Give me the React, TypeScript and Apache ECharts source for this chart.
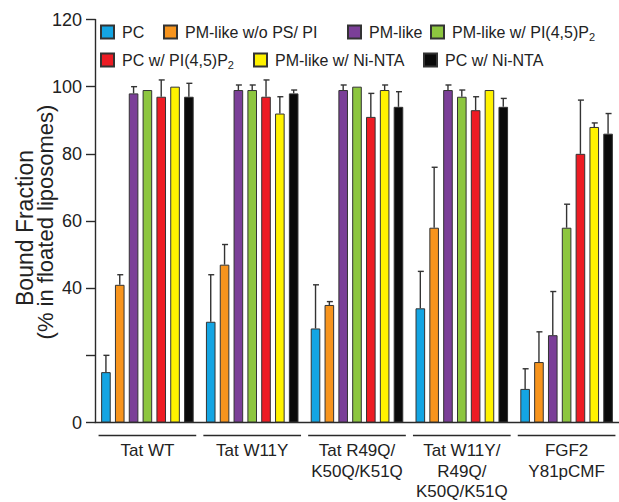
import React, { useEffect, useRef } from "react";
import * as echarts from "echarts";

const categories = [
  "Tat WT",
  "Tat W11Y",
  "Tat R49Q/\nK50Q/K51Q",
  "Tat W11Y/\nR49Q/\nK50Q/K51Q",
  "FGF2\nY81pCMF",
];

const seriesNames = [
  "PC",
  "PM-like w/o PS/ PI",
  "PM-like",
  "PM-like w/ PI(4,5)P2",
  "PC w/ PI(4,5)P2",
  "PM-like w/ Ni-NTA",
  "PC w/ Ni-NTA",
];

const seriesColors = ["#14a5e3", "#f7941d", "#7b3f98", "#8dc63f", "#ed1c24", "#fff200", "#0a0a0a"];

const pcValues = [15, 30, 28, 34, 10];
const pmNoPsValues = [41, 47, 35, 58, 18];
const pmValues = [98, 99, 99, 99, 26];
const pmPipValues = [99, 99, 100, 97, 58];
const pcPipValues = [97, 97, 91, 93, 80];
const pmNiValues = [100, 92, 99, 99, 88];
const pcNiValues = [97, 98, 94, 94, 86];

const pcErr = [5, 14, 13, 11, 6];
const pmNoPsErr = [3, 6, 1, 18, 9];
const pmErr = [2, 1.5, 1.5, 1.5, 13];
const pmPipErr = [0, 1.5, 0, 2, 7];
const pcPipErr = [5, 5, 7, 4, 16];
const pmNiErr = [0, 5, 1.5, 0, 1.2];
const pcNiErr = [4, 1, 4.5, 2.5, 6];

const allValues = [pcValues, pmNoPsValues, pmValues, pmPipValues, pcPipValues, pmNiValues, pcNiValues];
const allErrors = [pcErr, pmNoPsErr, pmErr, pmPipErr, pcPipErr, pmNiErr, pcNiErr];

const yTickValues = [0, 20, 40, 60, 80, 100, 120];
const yTickLabels = ["0", "", "40", "60", "80", "100", "120"];

const legendLabels: Record<string, string> = {
  "PC": "{n|PC}",
  "PM-like w/o PS/ PI": "{n|PM-like w/o PS/ PI}",
  "PM-like": "{n|PM-like}",
  "PM-like w/ PI(4,5)P2": "{n|PM-like w/ PI(4,5)P}{s|2}",
  "PC w/ PI(4,5)P2": "{n|PC w/ PI(4,5)P}{s|2}",
  "PM-like w/ Ni-NTA": "{n|PM-like w/ Ni-NTA}",
  "PC w/ Ni-NTA": "{n|PC w/ Ni-NTA}",
};

const legendPos = [
  { left: 100, top: 24 },
  { left: 163, top: 24 },
  { left: 347, top: 24 },
  { left: 430, top: 24 },
  { left: 100, top: 52 },
  { left: 253, top: 52 },
  { left: 423, top: 52 },
];

const FONT = "Liberation Sans, Arial, sans-serif";
const BAR_WIDTH = 9.6;
const BAR_GAP = 0.44;
const AXIS_COLOR = "#2a2a2a";

export default function App() {
  const ref = useRef<HTMLDivElement>(null);

  useEffect(() => {
    if (!ref.current) return;
    const chart = echarts.init(ref.current, undefined, { renderer: "svg" });
    const pitch = BAR_WIDTH * (1 + BAR_GAP);
    const mid = (seriesNames.length - 1) / 2;

    const barSeries = seriesNames.map((name, i) => ({
      type: "bar",
      name,
      data: allValues[i],
      barWidth: BAR_WIDTH,
      barGap: `${BAR_GAP * 100}%`,
      itemStyle: { color: seriesColors[i], borderColor: "#333", borderWidth: 1 },
    }));

    const errSeries = seriesNames.map((name, i) => ({
      type: "custom",
      name: `err-${i}`,
      data: allValues[i].map((v, k) => [k, v, allErrors[i][k]]),
      encode: { x: 0, y: 1 },
      clip: false,
      z: 5,
      renderItem: (params: any, api: any) => {
        const sd = api.value(2);
        if (!sd || sd <= 0) return null;
        const base = api.coord([api.value(0), api.value(1)]);
        const top = api.coord([api.value(0), api.value(1) + sd]);
        const x = base[0] + (i - mid) * pitch;
        const style = { stroke: "#333", lineWidth: 1.4 };
        return {
          type: "group",
          children: [
            { type: "line", shape: { x1: x, y1: base[1], x2: x, y2: top[1] }, style },
            { type: "line", shape: { x1: x - 2.5, y1: top[1], x2: x + 3.5, y2: top[1] }, style },
          ],
        };
      },
    }));

    const underline = {
      type: "custom",
      name: "underline",
      data: categories.map((_, k) => [k, 0]),
      encode: { x: 0, y: 1 },
      clip: false,
      silent: true,
      renderItem: (params: any, api: any) => {
        const c = api.coord([api.value(0), 0]);
        const band = api.size([1, 0])[0];
        const half = band * 0.466;
        return {
          type: "line",
          shape: { x1: c[0] - half, y1: c[1] + 13, x2: c[0] + half, y2: c[1] + 13 },
          style: { stroke: AXIS_COLOR, lineWidth: 1.4 },
        };
      },
    };

    const legends = seriesNames.map((name, i) => ({
      data: [name],
      left: legendPos[i].left,
      top: legendPos[i].top,
      padding: 0,
      icon: "rect",
      itemWidth: 13,
      itemHeight: 13,
      formatter: (n: string) => legendLabels[n],
      selectedMode: false,
      textStyle: {
        color: "#222",
        fontFamily: FONT,
        rich: {
          n: { fontSize: 16, fontFamily: FONT, color: "#222", padding: [0, 0, 0, 3] },
          s: { fontSize: 11, fontFamily: FONT, color: "#222", padding: [10, 0, 0, 0] },
        },
      },
    }));

    chart.setOption({
      animation: false,
      textStyle: { fontFamily: FONT },
      legend: legends,
      grid: { left: 95, top: 19.5, width: 527, height: 408.5, containLabel: false },
      xAxis: {
        type: "category",
        data: categories,
        axisLine: { lineStyle: { color: AXIS_COLOR, width: 1.4 } },
        axisTick: { alignWithLabel: true, length: 10, lineStyle: { color: AXIS_COLOR, width: 1.4 } },
        axisLabel: { fontSize: 17, lineHeight: 20.5, color: "#222", margin: 18, fontFamily: FONT, interval: 0 },
      },
      yAxis: {
        type: "value",
        min: 0,
        max: 120,
        interval: 20,
        axisLine: { show: true, lineStyle: { color: AXIS_COLOR, width: 1.4 } },
        axisTick: { show: true, length: 9, lineStyle: { color: AXIS_COLOR, width: 1.4 } },
        splitLine: { show: false },
        axisLabel: {
          fontSize: 18,
          color: "#222",
          margin: 13,
          fontFamily: FONT,
          formatter: (v: number) => {
            const idx = yTickValues.indexOf(v);
            return idx >= 0 ? yTickLabels[idx] : "";
          },
        },
      },
      graphic: [
        {
          type: "text",
          x: 25,
          y: 228,
          rotation: Math.PI / 2,
          style: {
            text: "Bound Fraction",
            fontSize: 23,
            fontFamily: FONT,
            fill: "#222",
            align: "center",
            verticalAlign: "middle",
          },
        },
        {
          type: "text",
          x: 45,
          y: 222,
          rotation: Math.PI / 2,
          style: {
            text: "(% in floated liposomes)",
            fontSize: 22,
            fontFamily: FONT,
            fill: "#222",
            align: "center",
            verticalAlign: "middle",
          },
        },
      ],
      series: [...barSeries, ...errSeries, underline],
    });

    return () => chart.dispose();
  }, []);

  return (
    <div
      ref={ref}
      style={{ position: "absolute", left: 0, top: 0, width: 619, height: 502, background: "#fff" }}
    />
  );
}
